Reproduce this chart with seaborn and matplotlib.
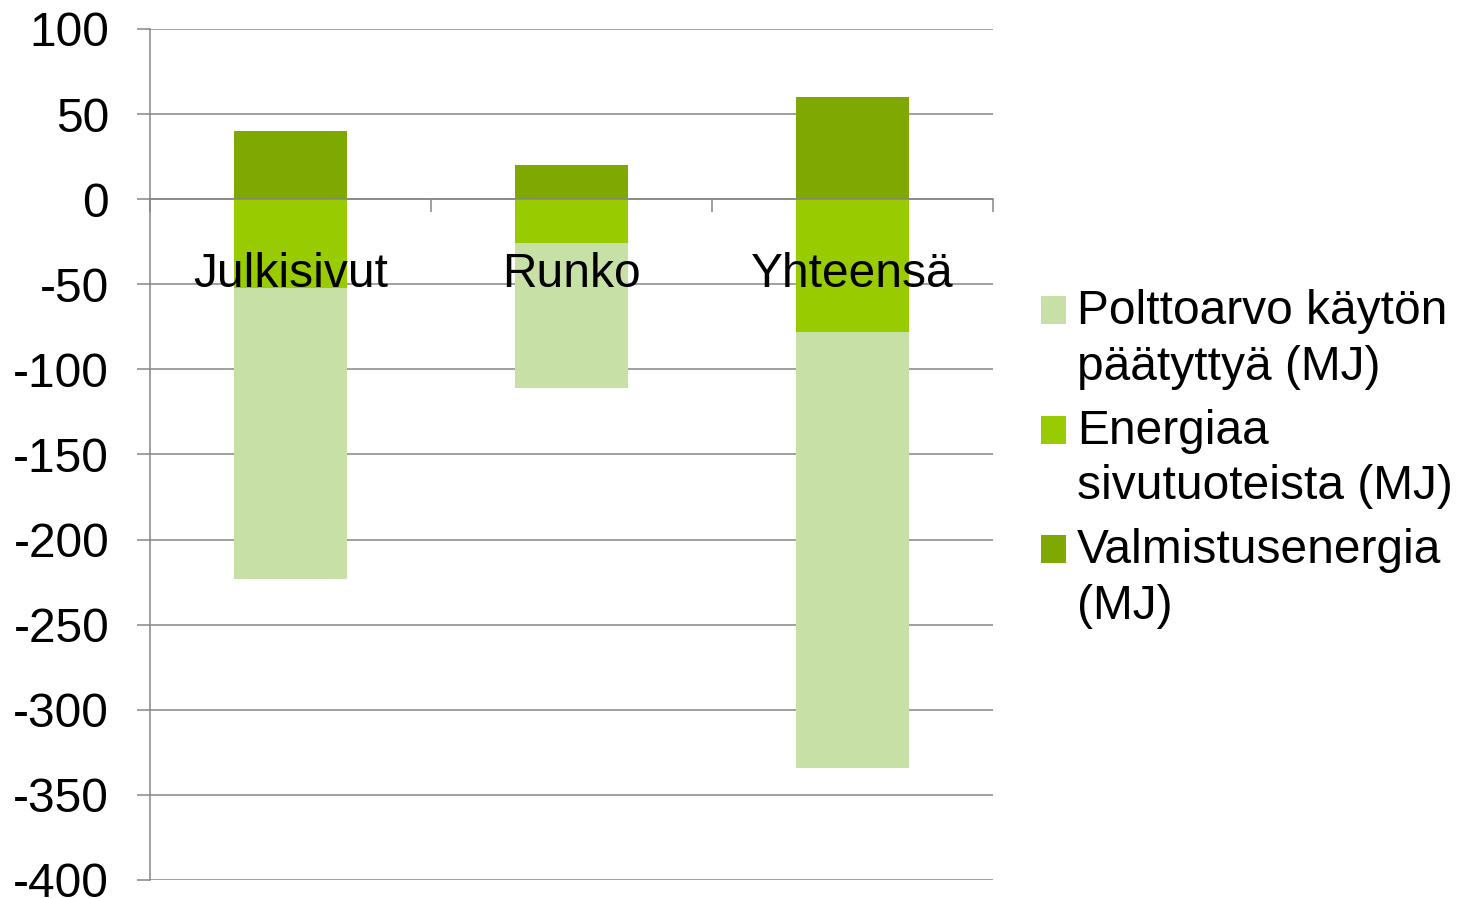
import numpy as np
import matplotlib
matplotlib.use("Agg")
import matplotlib.pyplot as plt
from matplotlib.patches import Patch, Rectangle
from matplotlib.legend_handler import HandlerPatch
import seaborn as sns

# values (MJ)
categories = ["Julkisivut", "Runko", "Yhteensä"]
valmistus = [40, 20, 60]          # Valmistusenergia
sivutuotteet = [-52, -26, -78]    # Energiaa sivutuoteista
polttoarvo = [-171, -85, -256]    # Polttoarvo käytön päätyttyä
y_ticks = [100, 50, 0, -50, -100, -150, -200, -250, -300, -350, -400]

c_light = "#C6E0A5"
c_mid = "#99CC00"
c_dark = "#7FA800"
grey = "#868686"
fs = 34.5

sns.set_theme(style="white")
plt.rcParams["font.family"] = ["Liberation Sans", "DejaVu Sans"]
plt.rcParams["text.color"] = "black"

fig = plt.figure(figsize=(14.61, 8.98), dpi=100)
ax = fig.add_axes([150 / 1461, 18 / 898, 843 / 1461, 851 / 898])

# negative part is stacked: draw the full depth first, then the upper piece over it
neg_total = np.array(sivutuotteet) + np.array(polttoarvo)
sns.barplot(x=categories, y=neg_total, color=c_light, width=0.4, saturation=1,
            linewidth=0, ax=ax)
sns.barplot(x=categories, y=sivutuotteet, color=c_mid, width=0.4, saturation=1,
            linewidth=0, ax=ax)
sns.barplot(x=categories, y=valmistus, color=c_dark, width=0.4, saturation=1,
            linewidth=0, ax=ax)

ax.set_xlim(-0.5, 2.5)
ax.set_ylim(-400, 100)
ax.set_yticks(y_ticks)
ax.set_yticklabels([str(v) for v in y_ticks])
ax.set_xlabel("")
ax.set_ylabel("")

ax.grid(axis="y", color=grey, linewidth=1.1)
ax.grid(axis="x", visible=False)
ax.set_axisbelow(True)
ax.xaxis.set_zorder(3)

for s in ["top", "right"]:
    ax.spines[s].set_visible(False)
ax.spines["left"].set_color(grey)
ax.spines["left"].set_linewidth(1.1)
ax.spines["bottom"].set_position(("data", 0))
ax.spines["bottom"].set_color(grey)
ax.spines["bottom"].set_linewidth(1.1)

# category boundary ticks, labels hang below the zero line
ax.set_xticks([-0.5, 0.5, 1.5, 2.5])
ax.set_xticklabels([])
ax.set_xticks([0, 1, 2], minor=True)
ax.set_xticklabels(categories, minor=True)
ax.tick_params(axis="x", which="major", direction="out", length=9.4, width=1.1,
               color=grey, bottom=True)
ax.tick_params(axis="x", which="minor", length=0, pad=38, labelsize=fs,
               labelcolor="black")
ax.tick_params(axis="y", direction="out", length=9.4, width=1.1, color=grey,
               left=True, pad=20, labelsize=fs, labelcolor="black")


class FirstLineHandler(HandlerPatch):
    # put the swatch next to the first line of a two line label
    def create_artists(self, legend, orig_handle, xdescent, ydescent, width,
                       height, fontsize, trans):
        p = Rectangle((-xdescent, -ydescent + 0.62 * fontsize), width, height,
                      facecolor=orig_handle.get_facecolor(), edgecolor="none",
                      transform=trans)
        return [p]


handles = [Patch(color=c_light), Patch(color=c_mid), Patch(color=c_dark)]
labels = ["Polttoarvo käytön\npäätyttyä (MJ)",
          "Energiaa\nsivutuoteista (MJ)",
          "Valmistusenergia\n(MJ)"]
leg = fig.legend(handles, labels, loc="upper left",
                 bbox_to_anchor=(1041 / 1461, 1 - 289 / 898),
                 frameon=False, fontsize=fs, labelcolor="black",
                 handlelength=0.52, handleheight=0.52,
                 handletextpad=0.23, labelspacing=0.4, borderpad=0, borderaxespad=0,
                 handler_map={Patch: FirstLineHandler()})
for t in leg.get_texts():
    t.set_linespacing(1.3)

fig.savefig("out.png", dpi=100)
